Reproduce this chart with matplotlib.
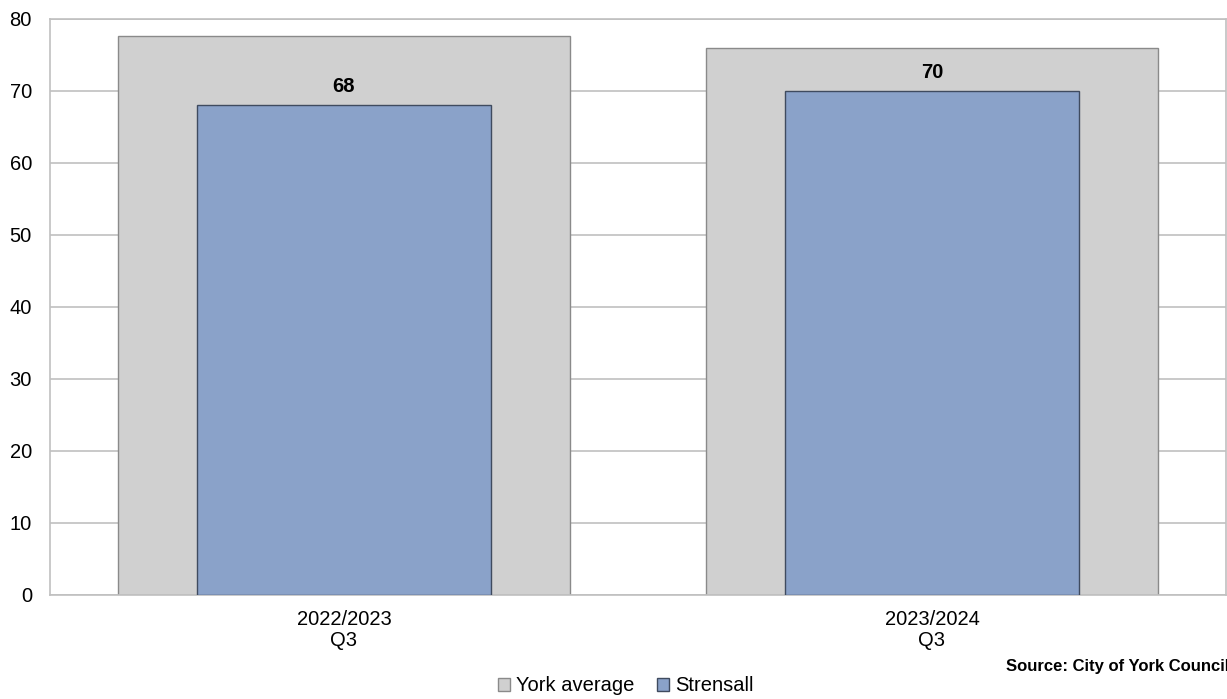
import matplotlib.pyplot as plt
import numpy as np

plt.rcParams['font.family'] = ['Liberation Sans', 'DejaVu Sans']

categories = ["2022/2023\nQ3", "2023/2024\nQ3"]
york_avg = [77.6, 76.0]
strensall = [68, 70]

fig = plt.figure(figsize=(12.27, 6.99), dpi=100)
ax = fig.add_axes([0.0407, 0.1492, 0.9585, 0.824])

x = np.arange(len(categories))
ax.bar(x, york_avg, width=0.77, color="#d0d0d0", edgecolor="#8a8a8a", linewidth=1,
       label="York average", zorder=2)
ax.bar(x, strensall, width=0.5, color="#8aa2c9", edgecolor="#3f4b5f", linewidth=1,
       label="Strensall", zorder=3)

for xi, v in zip(x, strensall):
    ax.annotate(str(v), (xi, v), xytext=(0, 9.5), textcoords="offset points",
                ha="center", va="baseline", fontsize=14.5, fontweight="bold", zorder=4)

ax.set_xlim(-0.5, 1.5)
ax.set_ylim(0, 80)
ax.set_yticks(range(0, 81, 10))
ax.set_xticks(x)
ax.set_xticklabels(categories, fontsize=14.5, linespacing=1.15)
ax.tick_params(axis="y", labelsize=14.5, length=0, pad=13)
ax.tick_params(axis="x", length=0, pad=11)
ax.grid(axis="y", color="#c0c0c0", linewidth=1.2, zorder=1)
ax.set_axisbelow(True)
for s in ax.spines.values():
    s.set_color("#c0c0c0")
    s.set_linewidth(1.2)

fig.legend(loc="center", bbox_to_anchor=(0.51, 0.0186), ncol=2, frameon=False,
           fontsize=14.5, handlelength=0.6, handleheight=0.6, handletextpad=0.3,
           columnspacing=1.1, borderaxespad=0, borderpad=0)

fig.text(1006 / 1227, 0.0458, "Source: City of York Council", ha="left", va="center",
         fontsize=12, fontweight="bold")

fig.savefig("out.png", dpi=100)
